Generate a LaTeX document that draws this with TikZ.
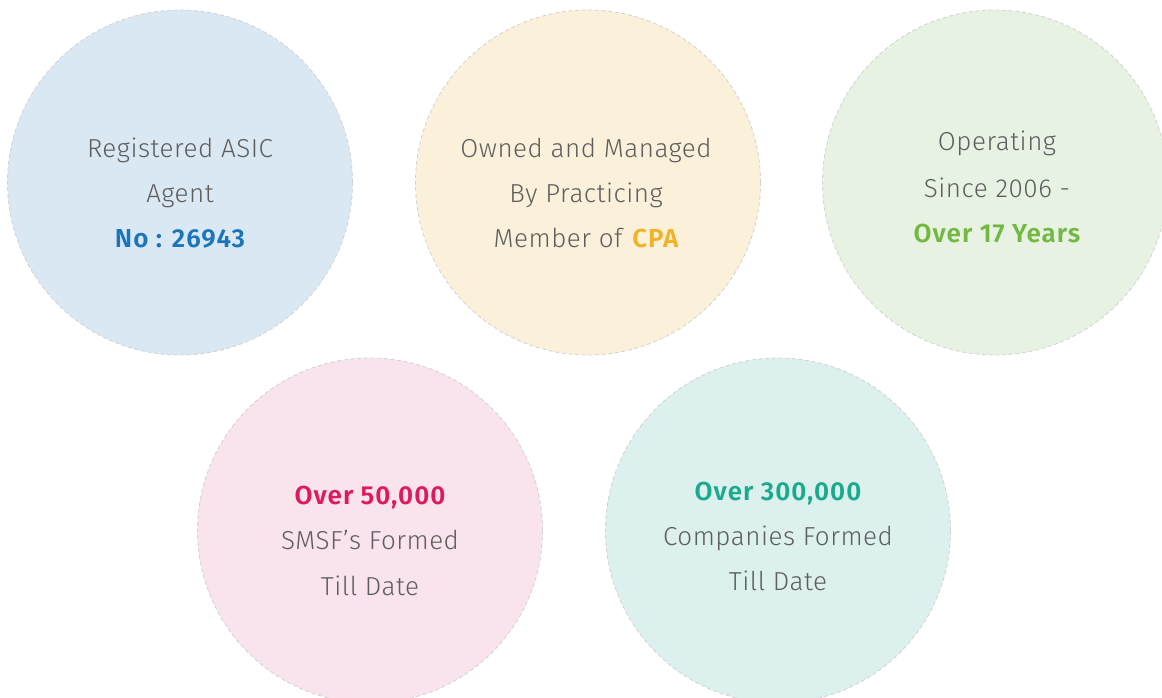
\documentclass[tikz,border=0pt]{standalone}
\usepackage{fontspec}
\setmainfont{Fira Sans}[UprightFont=* Light, BoldFont=* SemiBold,
  UprightFeatures={LetterSpace=2}, BoldFeatures={LetterSpace=4}]
\definecolor{txtgray}{HTML}{5E5E5E}
\definecolor{rimgray}{HTML}{D2D2D2}
\definecolor{bluefill}{HTML}{DAE8F4}
\definecolor{bluetxt}{HTML}{1B75BB}
\definecolor{yellowfill}{HTML}{FBF1DB}
\definecolor{yellowtxt}{HTML}{F2B226}
\definecolor{greenfill}{HTML}{E7F2E2}
\definecolor{greentxt}{HTML}{72B843}
\definecolor{pinkfill}{HTML}{F9E3ED}
\definecolor{pinktxt}{HTML}{E0195A}
\definecolor{tealfill}{HTML}{DCF0ED}
\definecolor{tealtxt}{HTML}{1AAA8E}

\begin{document}
\begin{tikzpicture}[x=0.75pt, y=-0.75pt,
  bubble/.style={circle, draw=rimgray, dash pattern=on 3pt off 2pt, line width=0.6pt, inner sep=0pt, minimum size=258.75pt},
  line/.style={anchor=base, text=txtgray, font=\fontsize{19.5}{23}\selectfont, inner sep=0pt},
  strong/.style={line, font=\fontsize{19.5}{23}\selectfont\bfseries}]
\useasboundingbox (0,0) rectangle (1162,697);
% top row
\node[bubble, fill=bluefill] (asic) at (180,182.5) {};
\node[bubble, fill=yellowfill] (cpa) at (588,182.5) {};
\node[bubble, fill=greenfill] (years) at (995,182.5) {};
% bottom row
\node[bubble, fill=pinkfill] (smsf) at (370,530.5) {};
\node[bubble, fill=tealfill] (companies) at (778,530.5) {};

\node[line] (asic1) at (180,157) {Registered ASIC};
\node[line] (asic2) at (180,202) {Agent};
\node[strong, text=bluetxt] (asic3) at (180,247) {No : 26943};

\node[line] (cpa1) at (586,157) {Owned and Managed};
\node[line] (cpa2) at (586,202) {By Practicing};
\node[line] (cpa3) at (586,247) {Member of \textbf{\color{yellowtxt}CPA}};

\node[line] (years1) at (997,150) {Operating};
\node[line] (years2) at (997,197) {Since 2006 -};
\node[strong, text=greentxt] (years3) at (997,242) {Over 17 Years};

\node[strong, text=pinktxt] (smsf1) at (370,504) {Over 50,000};
\node[line] (smsf2) at (370,549) {SMSF’s Formed};
\node[line] (smsf3) at (370,595) {Till Date};

\node[strong, text=tealtxt] (companies1) at (778,500) {Over 300,000};
\node[line] (companies2) at (778,545) {Companies Formed};
\node[line] (companies3) at (778,590) {Till Date};
\end{tikzpicture}
\end{document}
